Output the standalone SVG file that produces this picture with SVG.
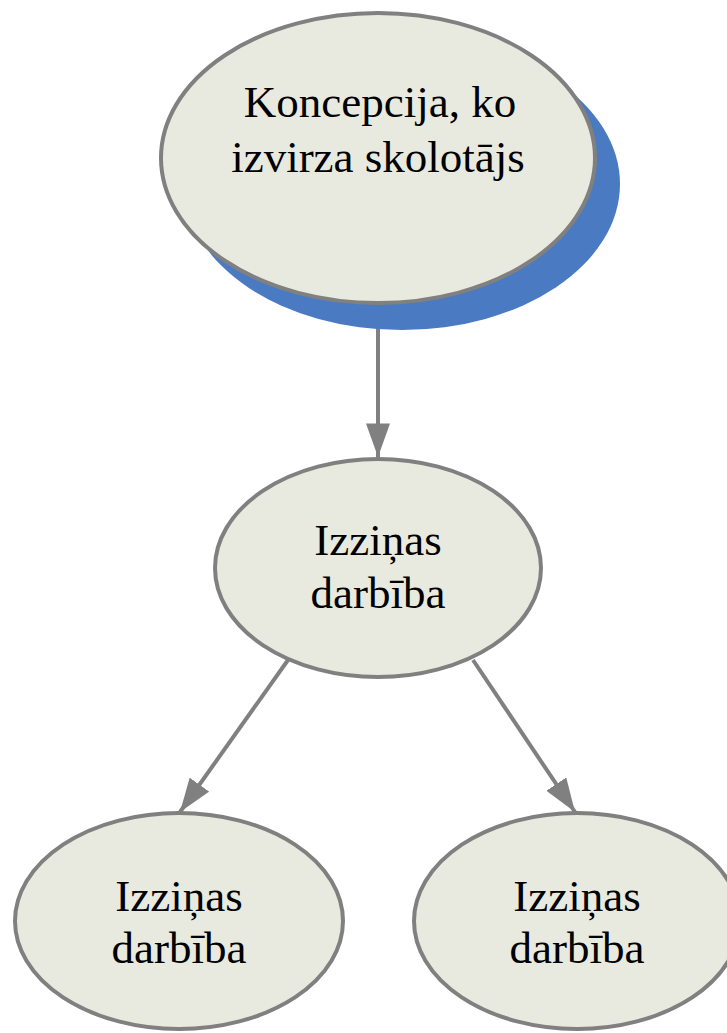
<svg xmlns="http://www.w3.org/2000/svg" width="727" height="1033" viewBox="0 0 727 1033">
<style>
.node{fill:#e9eadf;stroke:#808080;stroke-width:4}
.shadow{fill:#4a7ac1}
.lbl{font-family:"Liberation Serif","Times New Roman",serif;font-size:45px;fill:#000;text-anchor:middle}
.edge{stroke:#808080;stroke-width:4;fill:none;marker-end:url(#arr)}
</style>
<defs>
<marker id="arr" viewBox="0 0 14 10" refX="14" refY="5" markerWidth="8.4" markerHeight="6" markerUnits="strokeWidth" orient="auto">
<path d="M0,0 L14,5 L0,10 z" fill="#808080"/>
</marker>
</defs>
<rect width="727" height="1033" fill="#fff"/>
<g id="connectors">
<line class="edge" x1="378" y1="305" x2="378" y2="457"/>
<line class="edge" x1="288" y1="660" x2="180" y2="812"/>
<line class="edge" x1="473" y1="660" x2="575" y2="812"/>
</g>
<g id="n1">
<ellipse class="shadow" cx="402" cy="184" rx="218" ry="146"/>
<ellipse class="node" cx="378" cy="158" rx="217" ry="145"/>
<text class="lbl" x="380" y="117">Koncepcija, ko</text>
<text class="lbl" x="378" y="172">izvirza skolotājs</text>
</g>
<g id="n2">
<ellipse class="node" cx="378" cy="568" rx="163" ry="109"/>
<text class="lbl" x="378" y="555">Izziņas</text>
<text class="lbl" x="378" y="608">darbība</text>
</g>
<g id="n3">
<ellipse class="node" cx="179" cy="921" rx="164" ry="108"/>
<text class="lbl" x="179" y="911">Izziņas</text>
<text class="lbl" x="179" y="963">darbība</text>
</g>
<g id="n4">
<ellipse class="node" cx="577" cy="921" rx="163" ry="108"/>
<text class="lbl" x="577" y="911">Izziņas</text>
<text class="lbl" x="577" y="963">darbība</text>
</g>
</svg>
